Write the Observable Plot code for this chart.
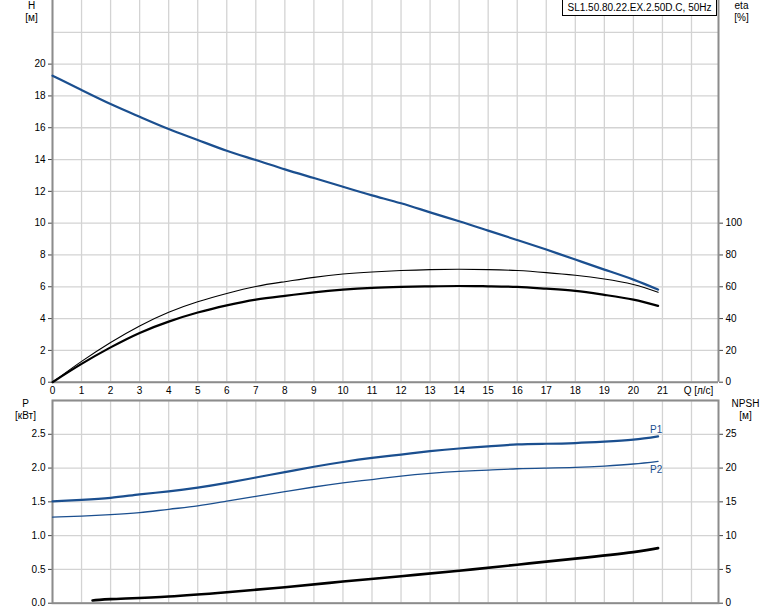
<!DOCTYPE html>
<html><head><meta charset="utf-8">
<script src="https://cdn.jsdelivr.net/npm/d3@7"></script>
<script src="https://cdn.jsdelivr.net/npm/@observablehq/plot@0.6"></script>
<style>
body{margin:0;background:#fff;font-family:"Liberation Sans",Arial,sans-serif;}
#wrap{position:relative;width:774px;height:611px;overflow:hidden;background:#fff;}
#top{position:absolute;left:0;top:0;}
#bot{position:absolute;left:0;top:398px;}
#title{position:absolute;left:562px;top:-1px;width:153px;height:15px;border:1px solid #000;background:#fff;font-size:10px;line-height:16px;text-align:center;white-space:nowrap;z-index:2;color:#000;}
svg{display:block;}
</style></head>
<body><div id="wrap"><div id="top"></div><div id="bot"></div><div id="title"></div></div>
<script>
// ---- data ----
const titleText = "SL1.50.80.22.EX.2.50D.C, 50Hz";
const qAxisLabel = "Q [л/с]";
const hLabel = "H\n[м]";
const etaLabel = "eta\n[%]";
const pLabel = "P\n[кВт]";
const npshLabel = "NPSH\n[м]";
const curveLabels = ["P1", "P2"];

const q = [0,1,2,3,4,5,6,7,8,9,10,11,12,13,14,15,16,17,18,19,20,20.85];
const head = [19.27,18.37,17.49,16.69,15.92,15.23,14.55,13.97,13.38,12.84,12.29,11.75,11.25,10.68,10.12,9.53,8.94,8.34,7.71,7.08,6.45,5.82];
const etaPump = [0,13.1,25.0,35.4,44.0,50.6,55.8,60.2,63.2,65.9,68.0,69.3,70.2,70.8,71.0,70.8,70.2,68.9,67.2,64.9,61.4,56.5];
const etaTotal = [0,11.5,21.9,31.0,38.1,43.8,48.3,51.9,54.3,56.5,58.2,59.3,59.9,60.3,60.5,60.3,59.9,58.8,57.4,54.9,51.9,48.0];
const p1 = [1.507,1.53,1.56,1.61,1.655,1.71,1.78,1.86,1.94,2.02,2.09,2.15,2.20,2.25,2.29,2.32,2.35,2.36,2.37,2.39,2.42,2.47];
const p2 = [1.275,1.29,1.31,1.34,1.39,1.44,1.51,1.58,1.65,1.72,1.78,1.83,1.88,1.92,1.95,1.97,1.99,2.00,2.01,2.03,2.06,2.10];
const qNpsh = [1.38,2,4,6,8,10,12,14,16,18,20,20.85];
const npsh = [0.4,0.6,1.0,1.63,2.37,3.2,4.0,4.8,5.7,6.6,7.56,8.15];

const xTicks = d3.range(0, 22);        // 0..21 labelled
const xGrid = d3.range(0, 23);         // 0..22
const hTicks = d3.range(0, 21, 2);     // 0..20
const hGrid = d3.range(0, 23, 2);
const etaTicks = d3.range(0, 101, 20); // 0..100
const pTicks = d3.range(0, 2.51, 0.5);
const pGrid = d3.range(0, 3.01, 0.5);

// ---- tables ----
const main = q.map((v, i) => ({q: v, h: head[i], e1: etaPump[i] / 10, e2: etaTotal[i] / 10, p1: p1[i], p2: p2[i]}));
const npshData = qNpsh.map((v, i) => ({q: v, n: npsh[i] / 10}));
const last = main[main.length - 1];

const blue = "#1b4f8f";
const gridC = "#d3d3d3";
const axisC = "#8c8c8c";
const font = "'Liberation Sans', Arial, sans-serif";
const xDomain = [0, 22.93];
const crv = "natural";
const common = {
  width: 774, marginLeft: 52, marginRight: 56,
  style: {fontFamily: font, fontSize: "10px", color: "#000", background: "transparent", overflow: "visible"}
};
const lbl = {lineAnchor: "top", lineHeight: 1.2, textAnchor: "middle", text: d => d, fill: "#000"};

const topPlot = Plot.plot({
  ...common,
  height: 400, marginTop: 0, marginBottom: 18.3,
  x: {domain: xDomain, axis: null},
  y: {domain: [0, 24], axis: null},
  marks: [
    Plot.gridX(xGrid, {stroke: gridC, strokeOpacity: 1, strokeWidth: 1.3}),
    Plot.gridY(hGrid, {stroke: gridC, strokeOpacity: 1, strokeWidth: 1.3}),
    Plot.axisY(hTicks, {anchor: "left", tickSize: 4, tickPadding: 3, label: null, stroke: "#444", fill: "#000"}),
    Plot.axisY(etaTicks.map(v => v / 10), {anchor: "right", tickSize: 4, tickPadding: 3, label: null, tickFormat: d => Math.round(d * 10), stroke: "#444", fill: "#000"}),
    Plot.axisX(xTicks, {anchor: "bottom", tickSize: 0, tickPadding: 5, label: null, tickFormat: d => d, fill: "#000"}),
    Plot.axisX([22], {anchor: "bottom", tickSize: 0, tickPadding: 5, label: null, tickFormat: () => qAxisLabel, dx: 7, fill: "#000"}),
    Plot.ruleX(xDomain, {stroke: axisC, strokeWidth: 2}),
    Plot.ruleY([0], {stroke: axisC, strokeWidth: 2}),
    Plot.line(main, {x: "q", y: "e1", stroke: "#000", strokeWidth: 1.1, curve: crv}),
    Plot.line(main, {x: "q", y: "e2", stroke: "#000", strokeWidth: 2.2, curve: crv}),
    Plot.line(main, {x: "q", y: "h", stroke: blue, strokeWidth: 2.2, curve: crv}),
    Plot.text([hLabel], {...lbl, frameAnchor: "top-left", dx: -21, dy: 0}),
    Plot.text([etaLabel], {...lbl, frameAnchor: "top-right", dx: 23, dy: 0})
  ]
});
document.getElementById("top").append(topPlot);

const botPlot = Plot.plot({
  ...common,
  height: 213, marginTop: 2, marginBottom: 8.3,
  x: {domain: xDomain, axis: null},
  y: {domain: [0, 3], axis: null},
  marks: [
    Plot.gridX(xGrid, {stroke: gridC, strokeOpacity: 1, strokeWidth: 1.3}),
    Plot.gridY(pGrid, {stroke: gridC, strokeOpacity: 1, strokeWidth: 1.3}),
    Plot.axisY(pTicks, {anchor: "left", tickSize: 4, tickPadding: 3, label: null, tickFormat: d3.format(".1f"), stroke: "#444", fill: "#000"}),
    Plot.axisY(pTicks, {anchor: "right", tickSize: 4, tickPadding: 3, label: null, tickFormat: d => Math.round(d * 10), stroke: "#444", fill: "#000"}),
    Plot.frame({stroke: axisC, strokeWidth: 2}),
    Plot.line(npshData, {x: "q", y: "n", stroke: "#000", strokeWidth: 2.6, curve: crv}),
    Plot.line(main, {x: "q", y: "p2", stroke: blue, strokeWidth: 1.3, curve: crv}),
    Plot.line(main, {x: "q", y: "p1", stroke: blue, strokeWidth: 2.2, curve: crv}),
    Plot.text([last], {x: "q", y: "p1", text: () => curveLabels[0], dx: -2, dy: -7, fill: blue}),
    Plot.text([last], {x: "q", y: "p2", text: () => curveLabels[1], dx: -2, dy: 8, fill: blue}),
    Plot.text([pLabel], {...lbl, frameAnchor: "top-left", dx: -27, dy: -2}),
    Plot.text([npshLabel], {...lbl, frameAnchor: "top-right", dx: 27, dy: -2})
  ]
});
document.getElementById("bot").append(botPlot);
document.getElementById("title").textContent = titleText;
</script>
</body></html>
